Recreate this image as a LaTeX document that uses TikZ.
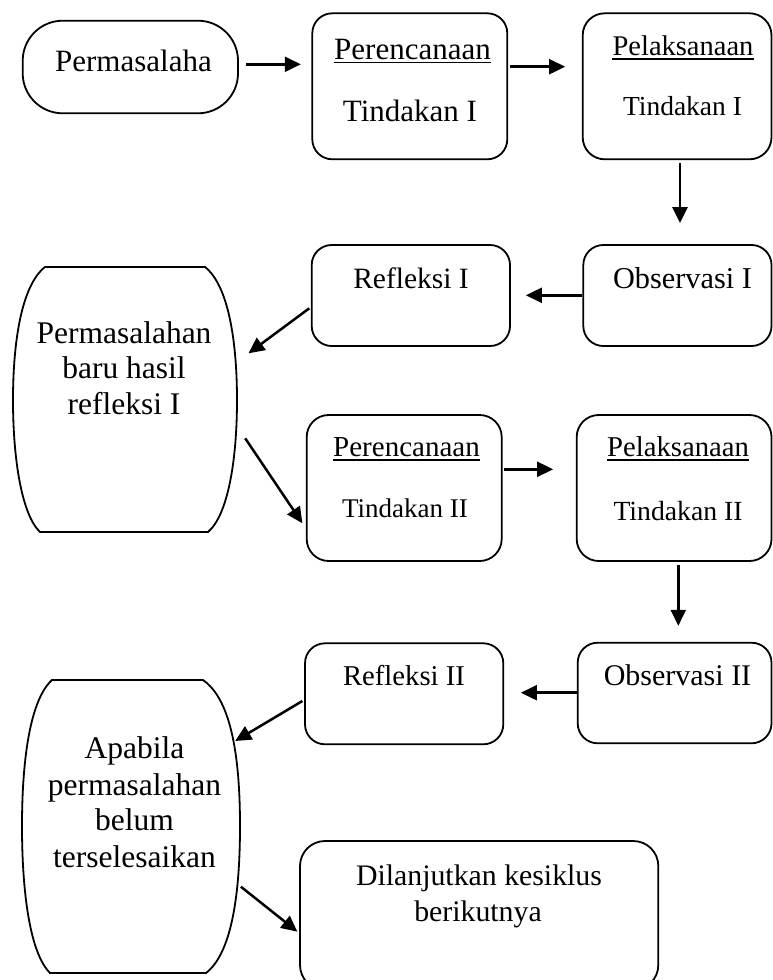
\documentclass[tikz,border=0pt]{standalone}
\usepackage{fontspec}
\setmainfont{Liberation Serif}
\usetikzlibrary{arrows.meta,calc}
\begin{document}
\begin{tikzpicture}[x=1pt,y=-1pt,
  box/.style={draw, line width=1.8pt, rounded corners=20pt, inner sep=0pt},
  ghost/.style={draw=none, inner sep=0pt},
  barrelline/.style={line width=1.8pt},
  arr/.style={line width=2.5pt, -{Triangle[length=16pt,width=15pt]}},
  ul/.style={line width=1.5pt},
  t/.style={inner sep=0pt, anchor=base, font=\fontsize{#1}{#1}\selectfont}]
\useasboundingbox (0,0) rectangle (772,980);

% boxes
\node[box, rounded corners=40pt, minimum width=215.3pt, minimum height=92.6pt] (A) at (130.35,67) {};
\node[box, minimum width=195pt, minimum height=146pt] (B) at (409.8,86.3) {};
\node[box, rounded corners=22pt, minimum width=188.8pt, minimum height=146pt] (C) at (677.1,86.3) {};
\node[box, minimum width=188.2pt, minimum height=101pt] (D) at (677.4,295.5) {};
\node[box, minimum width=198.3pt, minimum height=101pt] (E) at (410.85,295.5) {};
\node[ghost, minimum width=224pt, minimum height=265pt] (F) at (125,399.5) {};
\node[box, rounded corners=22pt, minimum width=195pt, minimum height=146pt] (G) at (404.2,488) {};
\node[box, rounded corners=22pt, minimum width=194.8pt, minimum height=146pt] (H) at (674.1,488) {};
\node[box, minimum width=193.8pt, minimum height=100.6pt] (I) at (674.6,693) {};
\node[box, minimum width=198.3pt, minimum height=101pt] (J) at (404.15,693.8) {};
\node[ghost, minimum width=218pt, minimum height=293pt] (K) at (131,826.5) {};
\node[box, rounded corners=25pt, minimum width=358.3pt, minimum height=149pt] (L) at (479.15,915.5) {};

% barrel shapes
\draw[barrelline] (45,267) -- (205,267)
  .. controls (228,285) and (237,340) .. (237,400)
  .. controls (237,460) and (228,515) .. (208,532)
  -- (40,532)
  .. controls (22,515) and (13,460) .. (13,400)
  .. controls (13,340) and (22,285) .. (45,267) -- cycle;
\draw[barrelline] (52,680) -- (203,680)
  .. controls (232,700) and (240,760) .. (240,826)
  .. controls (240,893) and (232,953) .. (206,973)
  -- (50,973)
  .. controls (30,953) and (22,893) .. (22,826)
  .. controls (22,760) and (30,700) .. (52,680) -- cycle;

% texts
\node[t=31] (At) at (133.5,71) {Permasalaha};
\node[t=31] (Bt1) at (412.5,59.3) {Perencanaan};
\node[t=31] (Bt2) at (410,121.7) {Tindakan I};
\node[t=28.5] (Ct1) at (683,55) {Pelaksanaan};
\node[t=27.5] (Ct2) at (682.5,115) {Tindakan I};
\node[t=30.3] (Dt) at (682.5,288) {Observasi I};
\node[t=29.5] (Et) at (411,288) {Refleksi I};
\node[t=31.5] (Ft1) at (124,343) {Permasalahan};
\node[t=31.5] (Ft2) at (124,378) {baru hasil};
\node[t=31.5] (Ft3) at (124,414) {refleksi I};
\node[t=29] (Gt1) at (406.5,456.7) {Perencanaan};
\node[t=27] (Gt2) at (405,517) {Tindakan II};
\node[t=28.7] (Ht1) at (678,456.7) {Pelaksanaan};
\node[t=27.7] (Ht2) at (678,520) {Tindakan II};
\node[t=30] (It) at (677.5,685) {Observasi II};
\node[t=28.7] (Jt) at (404,685) {Refleksi II};
\node[t=31.5] (Kt1) at (134.5,758) {Apabila};
\node[t=31.5] (Kt2) at (134.5,795) {permasalahan};
\node[t=31.5] (Kt3) at (134.5,830) {belum};
\node[t=31.5] (Kt4) at (134.5,867) {terselesaikan};
\node[t=29.8] (Lt1) at (479,885) {Dilanjutkan kesiklus};
\node[t=29.8] (Lt2) at (478,921.7) {berikutnya};

% underlines
\draw[ul] ([yshift=-3pt]Bt1.base west) -- ([yshift=-3pt]Bt1.base east);
\draw[ul] ([yshift=-4pt]Ct1.base west) -- ([yshift=-4pt]Ct1.base east);
\draw[ul] ([yshift=-3.3pt]Gt1.base west) -- ([yshift=-3.3pt]Gt1.base east);
\draw[ul] ([yshift=-3.3pt]Ht1.base west) -- ([yshift=-3.3pt]Ht1.base east);

% connectors
\draw[arr] ($(A.east |- 0,64.3)+(7,0)$) -- ($(B.west |- 0,64.3)+(-10.6,0)$);
\draw[arr] ($(B.east |- 0,66.7)+(2,0)$) -- ($(C.west |- 0,66.7)+(-16.7,0)$);
\draw[arr] ($(C.south -| 680,0)+(0,3)$) -- ($(D.north -| 680,0)+(0,-21)$);
\draw[arr] (D.west |- 0,295.3) -- ($(E.east |- 0,295.3)+(15,0)$);
\draw[arr] ($(E.west |- 0,308.3)+(-1.5,0)$) -- ($(F.east |- 0,353.3)+(11.3,0)$);
\draw[arr] ($(F.east |- 0,438.3)+(8,0)$) -- ($(G.west |- 0,523.3)+(-3.4,0)$);
\draw[arr] ($(G.east |- 0,469.3)+(1,0)$) -- ($(H.west |- 0,469.3)+(-22.7,0)$);
\draw[arr] ($(H.south -| 678.3,0)+(0,3.3)$) -- ($(I.north -| 678.3,0)+(0,-16)$);
\draw[arr] (I.west |- 0,692.7) -- ($(J.east |- 0,692.7)+(16.7,0)$);
\draw[arr] ($(J.west |- 0,701)+(-1.7,0)$) -- ($(K.east |- 0,741)+(-5,0)$);
\draw[arr] ($(K.east |- 0,886.7)+(0.7,0)$) -- ($(L.west |- 0,931.7)+(-1.7,0)$);
\end{tikzpicture}
\end{document}
